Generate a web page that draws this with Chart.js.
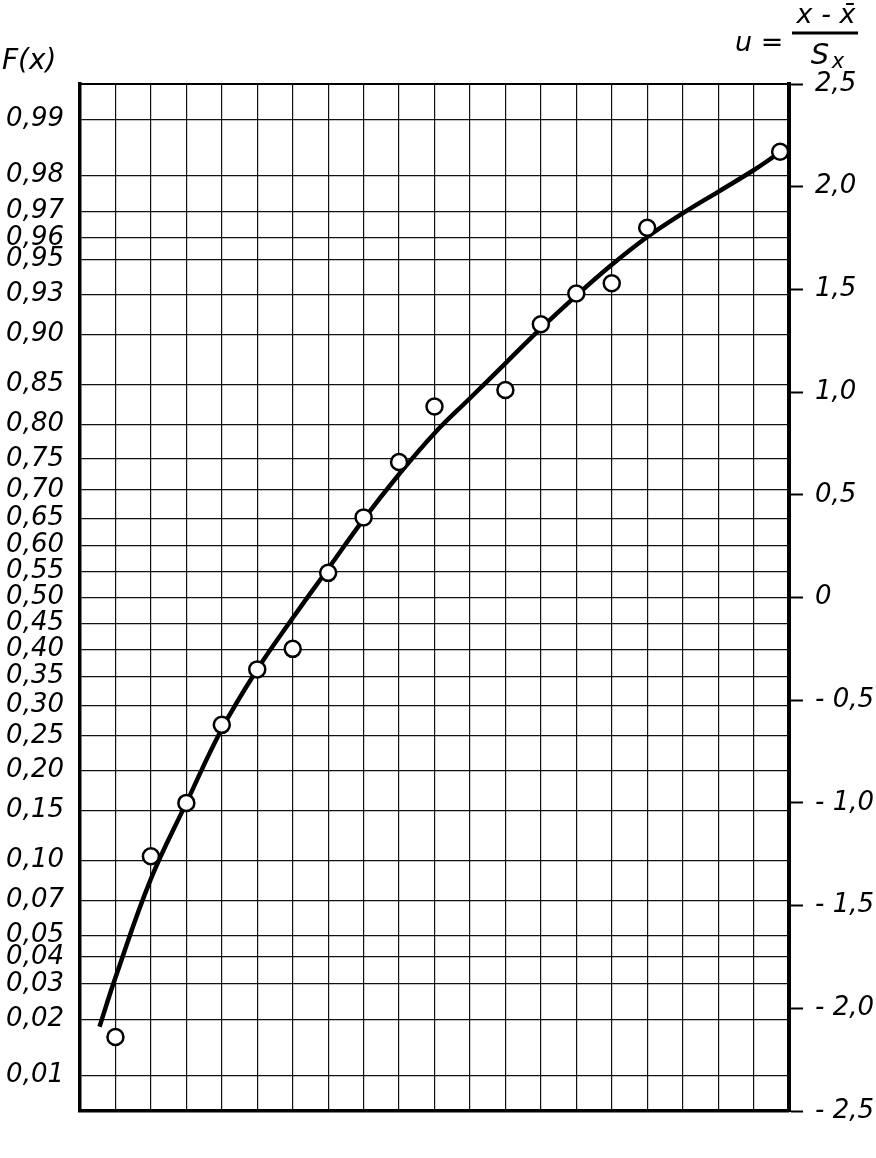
<!DOCTYPE html>
<html>
<head>
<meta charset="utf-8">
<script src="https://cdn.jsdelivr.net/npm/chart.js@4/dist/chart.umd.min.js"></script>
<style>
  body { margin: 0; background: #fff; }
  #wrap { width: 876px; height: 1158px; position: relative; }
</style>
</head>
<body>
<div id="wrap"><canvas id="grafico"></canvas></div>
<script>
// probabilidad acumulada (eje izquierdo) y sus etiquetas
const fValues = [0.99, 0.98, 0.97, 0.96, 0.95, 0.93, 0.90, 0.85, 0.80, 0.75, 0.70, 0.65, 0.60,
  0.55, 0.50, 0.45, 0.40, 0.35, 0.30, 0.25, 0.20, 0.15, 0.10, 0.07, 0.05, 0.04, 0.03, 0.02, 0.01];
const fLabels = ['0,99', '0,98', '0,97', '0,96', '0,95', '0,93', '0,90', '0,85', '0,80', '0,75',
  '0,70', '0,65', '0,60', '0,55', '0,50', '0,45', '0,40', '0,35', '0,30', '0,25', '0,20', '0,15',
  '0,10', '0,07', '0,05', '0,04', '0,03', '0,02', '0,01'];

// eje derecho u
const uTicks = [2.5, 2.0, 1.5, 1.0, 0.5, 0, -0.5, -1.0, -1.5, -2.0, -2.5];
const uLabels = ['2,5', '2,0', '1,5', '1,0', '0,5', '0', '- 0,5', '- 1,0', '- 1,5', '- 2,0', '- 2,5'];

// puntos observados
const pointX = [1, 2, 3, 4, 5, 6, 7, 8, 9, 10, 12, 13, 14, 15, 16, 19.75];
const pointU = [-2.14, -1.26, -1.0, -0.62, -0.35, -0.25, 0.12, 0.39, 0.66, 0.93, 1.01, 1.33, 1.48, 1.53, 1.80, 2.17];

// curva ajustada
const curveX = [0.55, 1, 2, 3, 4, 5, 6, 7, 8, 9, 10, 11, 12, 13, 14, 15, 16, 17, 18, 19, 19.6];
const curveU = [-2.09, -1.85, -1.37, -1.00, -0.64, -0.35, -0.10, 0.14, 0.38, 0.60, 0.80, 0.97, 1.14, 1.31, 1.47, 1.62, 1.755, 1.87, 1.975, 2.08, 2.15];

// inversa de la normal (papel probabilistico)
function probit(p) {
  const a = [-3.969683028665376e+01, 2.209460984245205e+02, -2.759285104469687e+02, 1.383577518672690e+02, -3.066479806614716e+01, 2.506628277459239e+00];
  const b = [-5.447609879822406e+01, 1.615858368580409e+02, -1.556989798598866e+02, 6.680131188771972e+01, -1.328068155288572e+01];
  const c = [-7.784894002430293e-03, -3.223964580411365e-01, -2.400758277161838e+00, -2.549732539343734e+00, 4.374664141464968e+00, 2.938163982698783e+00];
  const d = [7.784695709041462e-03, 3.224671290700398e-01, 2.445134137142996e+00, 3.754408661907416e+00];
  const pl = 0.02425;
  let q, r;
  if (p < pl) {
    q = Math.sqrt(-2 * Math.log(p));
    return (((((c[0]*q+c[1])*q+c[2])*q+c[3])*q+c[4])*q+c[5]) / ((((d[0]*q+d[1])*q+d[2])*q+d[3])*q+1);
  }
  if (p > 1 - pl) {
    q = Math.sqrt(-2 * Math.log(1 - p));
    return -(((((c[0]*q+c[1])*q+c[2])*q+c[3])*q+c[4])*q+c[5]) / ((((d[0]*q+d[1])*q+d[2])*q+d[3])*q+1);
  }
  q = p - 0.5; r = q * q;
  return (((((a[0]*r+a[1])*r+a[2])*r+a[3])*r+a[4])*r+a[5])*q / (((((b[0]*r+b[1])*r+b[2])*r+b[3])*r+b[4])*r+1);
}

const fontFam = "'DejaVu Sans', sans-serif";
const labelFont = { family: fontFam, size: 26, style: 'italic' };

const titulos = {
  id: 'titulos',
  afterDraw(chart) {
    const ctx = chart.ctx;
    ctx.save();
    ctx.fillStyle = '#000';
    ctx.textBaseline = 'middle';
    ctx.font = "italic 28px " + fontFam;
    ctx.textAlign = 'left';
    ctx.fillText('F(x)', 2, 62);
    // u = (x - x̄) / Sx
    ctx.font = "italic 27px " + fontFam;
    ctx.fillText('u =', 735, 44);
    ctx.textAlign = 'center';
    ctx.fillText('x - x\u0304', 826, 16);
    ctx.font = "italic 29px " + fontFam;
    ctx.fillText('S', 820, 56);
    ctx.font = "italic 21px " + fontFam;
    ctx.fillText('x', 838, 63);
    ctx.restore();
    ctx.save();
    ctx.strokeStyle = '#000';
    ctx.lineWidth = 3;
    ctx.beginPath();
    ctx.moveTo(792, 33);
    ctx.lineTo(858, 33);
    ctx.stroke();
    ctx.restore();
  }
};

new Chart(document.getElementById('grafico'), {
  type: 'line',
  data: {
    datasets: [
      {
        label: 'observado',
        data: pointX.map((x, i) => ({ x: x, y: pointU[i] })),
        showLine: false,
        pointRadius: 8,
        pointHoverRadius: 8,
        pointBackgroundColor: '#fff',
        pointBorderColor: '#000',
        pointBorderWidth: 2.5,
        yAxisID: 'y',
        order: 0
      },
      {
        label: 'curva',
        data: curveX.map((x, i) => ({ x: x, y: curveU[i] })),
        borderColor: '#000',
        borderWidth: 4.5,
        pointRadius: 0,
        tension: 0.4,
        fill: false,
        yAxisID: 'y',
        order: 1
      }
    ]
  },
  options: {
    responsive: true,
    maintainAspectRatio: false,
    animation: false,
    layout: { padding: 0 },
    plugins: {
      legend: { display: false },
      title: { display: false },
      tooltip: { enabled: false }
    },
    scales: {
      x: {
        type: 'linear',
        position: 'bottom',
        min: 0,
        max: 20,
        ticks: { stepSize: 1, display: false },
        grid: { color: '#111', lineWidth: 1.2, drawTicks: false },
        border: { display: true, color: '#000', width: 3.5 },
        afterFit: s => { s.height = 47; }
      },
      xTop: {
        type: 'linear',
        position: 'top',
        min: 0,
        max: 20,
        ticks: { display: false },
        grid: { drawOnChartArea: false, drawTicks: false },
        border: { display: true, color: '#000', width: 2 },
        afterFit: s => { s.height = 84; }
      },
      yF: {
        type: 'linear',
        position: 'left',
        min: -2.5,
        max: 2.5,
        afterBuildTicks: s => { s.ticks = fValues.map(f => ({ value: probit(f) })); },
        ticks: {
          autoSkip: false,
          padding: 16,
          color: '#000',
          font: labelFont,
          callback: (v, i) => fLabels[i]
        },
        grid: { color: '#111', lineWidth: 1.3, drawTicks: false },
        border: { display: true, color: '#000', width: 3.5 },
        afterFit: s => { s.width = 80; }
      },
      y: {
        type: 'linear',
        position: 'right',
        min: -2.5,
        max: 2.5,
        afterBuildTicks: s => { s.ticks = uTicks.map(u => ({ value: u })); },
        ticks: {
          autoSkip: false,
          padding: 12,
          color: '#000',
          font: labelFont,
          callback: (v, i) => uLabels[i]
        },
        grid: { drawOnChartArea: false, drawTicks: true, tickLength: 14, tickWidth: 2, color: '#000' },
        border: { display: true, color: '#000', width: 4 },
        afterFit: s => { s.width = 87; }
      }
    }
  },
  plugins: [titulos]
});
</script>
</body>
</html>
